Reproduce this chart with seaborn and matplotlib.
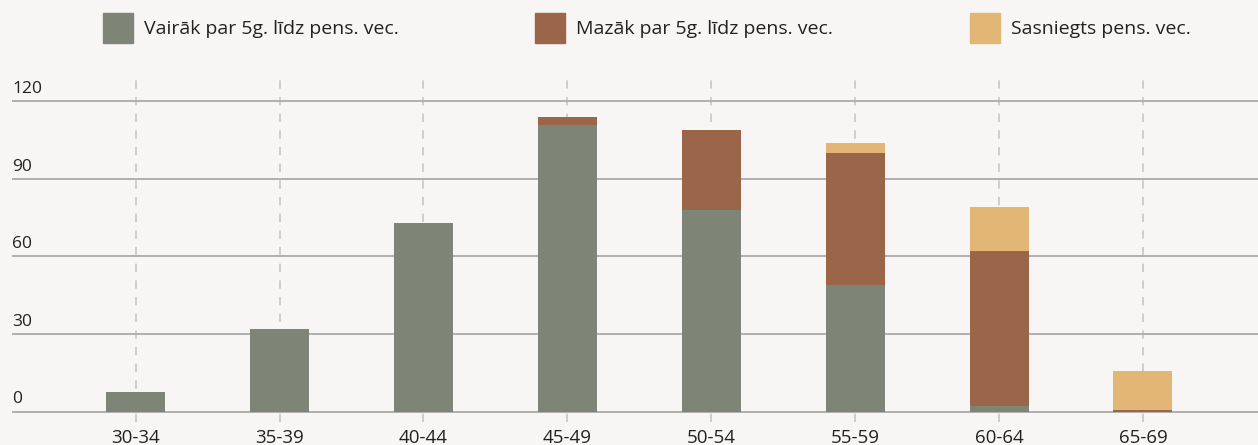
import numpy as np
import pandas as pd
import matplotlib.pyplot as plt
import seaborn as sns
from matplotlib.patches import Rectangle

# data
age_groups = ['30-34', '35-39', '40-44', '45-49', '50-54', '55-59', '60-64', '65-69']
more_than_5y = [7.5, 32, 73, 111, 78, 49, 2, 0]
less_than_5y = [0, 0, 0, 3, 31, 51, 60, 0.4]
reached_age = [0, 0, 0, 0, 0, 4, 17, 15.3]
y_ticks = [0, 30, 60, 90, 120]
legend_labels = ['Vairāk par 5g. līdz pens. vec.', 'Mazāk par 5g. līdz pens. vec.', 'Sasniegts pens. vec.']

c_green = '#7f8576'
c_brown = '#9a6549'
c_tan = '#e2b776'
bg = '#f7f6f4'

df = pd.DataFrame({'group': age_groups, 'more': more_than_5y,
                   'less': less_than_5y, 'reached': reached_age})
df['lvl2'] = df['more'] + df['less']
df['lvl3'] = df['lvl2'] + df['reached']

sns.set_style('white')
plt.rcParams['font.family'] = ['Open Sans', 'DejaVu Sans']

fig = plt.figure(figsize=(12.58, 4.45), dpi=100, facecolor=bg)
ax = fig.add_axes([12 / 1258, 23 / 445, 1 - 12 / 1258, 343 / 445])
ax.set_facecolor(bg)

# stacked bars: draw totals first, then cover with lower segments
for col, c in [('lvl3', c_tan), ('lvl2', c_brown), ('more', c_green)]:
    sns.barplot(data=df, x='group', y=col, color=c, width=0.41, saturation=1,
                linewidth=0, ax=ax, zorder=3)

ax.set_xlim(-0.86, 7.8)
ax.set_ylim(-4.06, 128.7)
ax.set_xlabel('')
ax.set_ylabel('')

# horizontal gridlines + labels above them
for v in y_ticks:
    ax.axhline(v, color='#b0b0b0', lw=1.4, zorder=1)
    ax.text(0, v + 1.6, str(v), transform=ax.get_yaxis_transform(),
            ha='left', va='bottom', fontsize=12.5, color='#222222')
ax.set_yticks([])

# vertical dashed gridlines at categories
ax.xaxis.grid(True, linestyle=(0, (5, 5)), color='#c6c6c6', lw=1.2, zorder=0)
ax.set_axisbelow(True)
ax.tick_params(axis='x', length=0, pad=5, labelsize=13.5, labelcolor='#222222')

sns.despine(ax=ax, left=True, bottom=True)

# legend: squares and labels across the top
leg_x = [103, 535, 970]
for x0, lab, col in zip(leg_x, legend_labels, [c_green, c_brown, c_tan]):
    fig.add_artist(Rectangle((x0 / 1258, (445 - 43) / 445), 30 / 1258, 30 / 445,
                             transform=fig.transFigure, color=col))
    fig.text((x0 + 41) / 1258, (445 - 29) / 445, lab, ha='left', va='center',
             fontsize=14, color='#222222')

plt.savefig('out.png', dpi=100, facecolor=bg)
